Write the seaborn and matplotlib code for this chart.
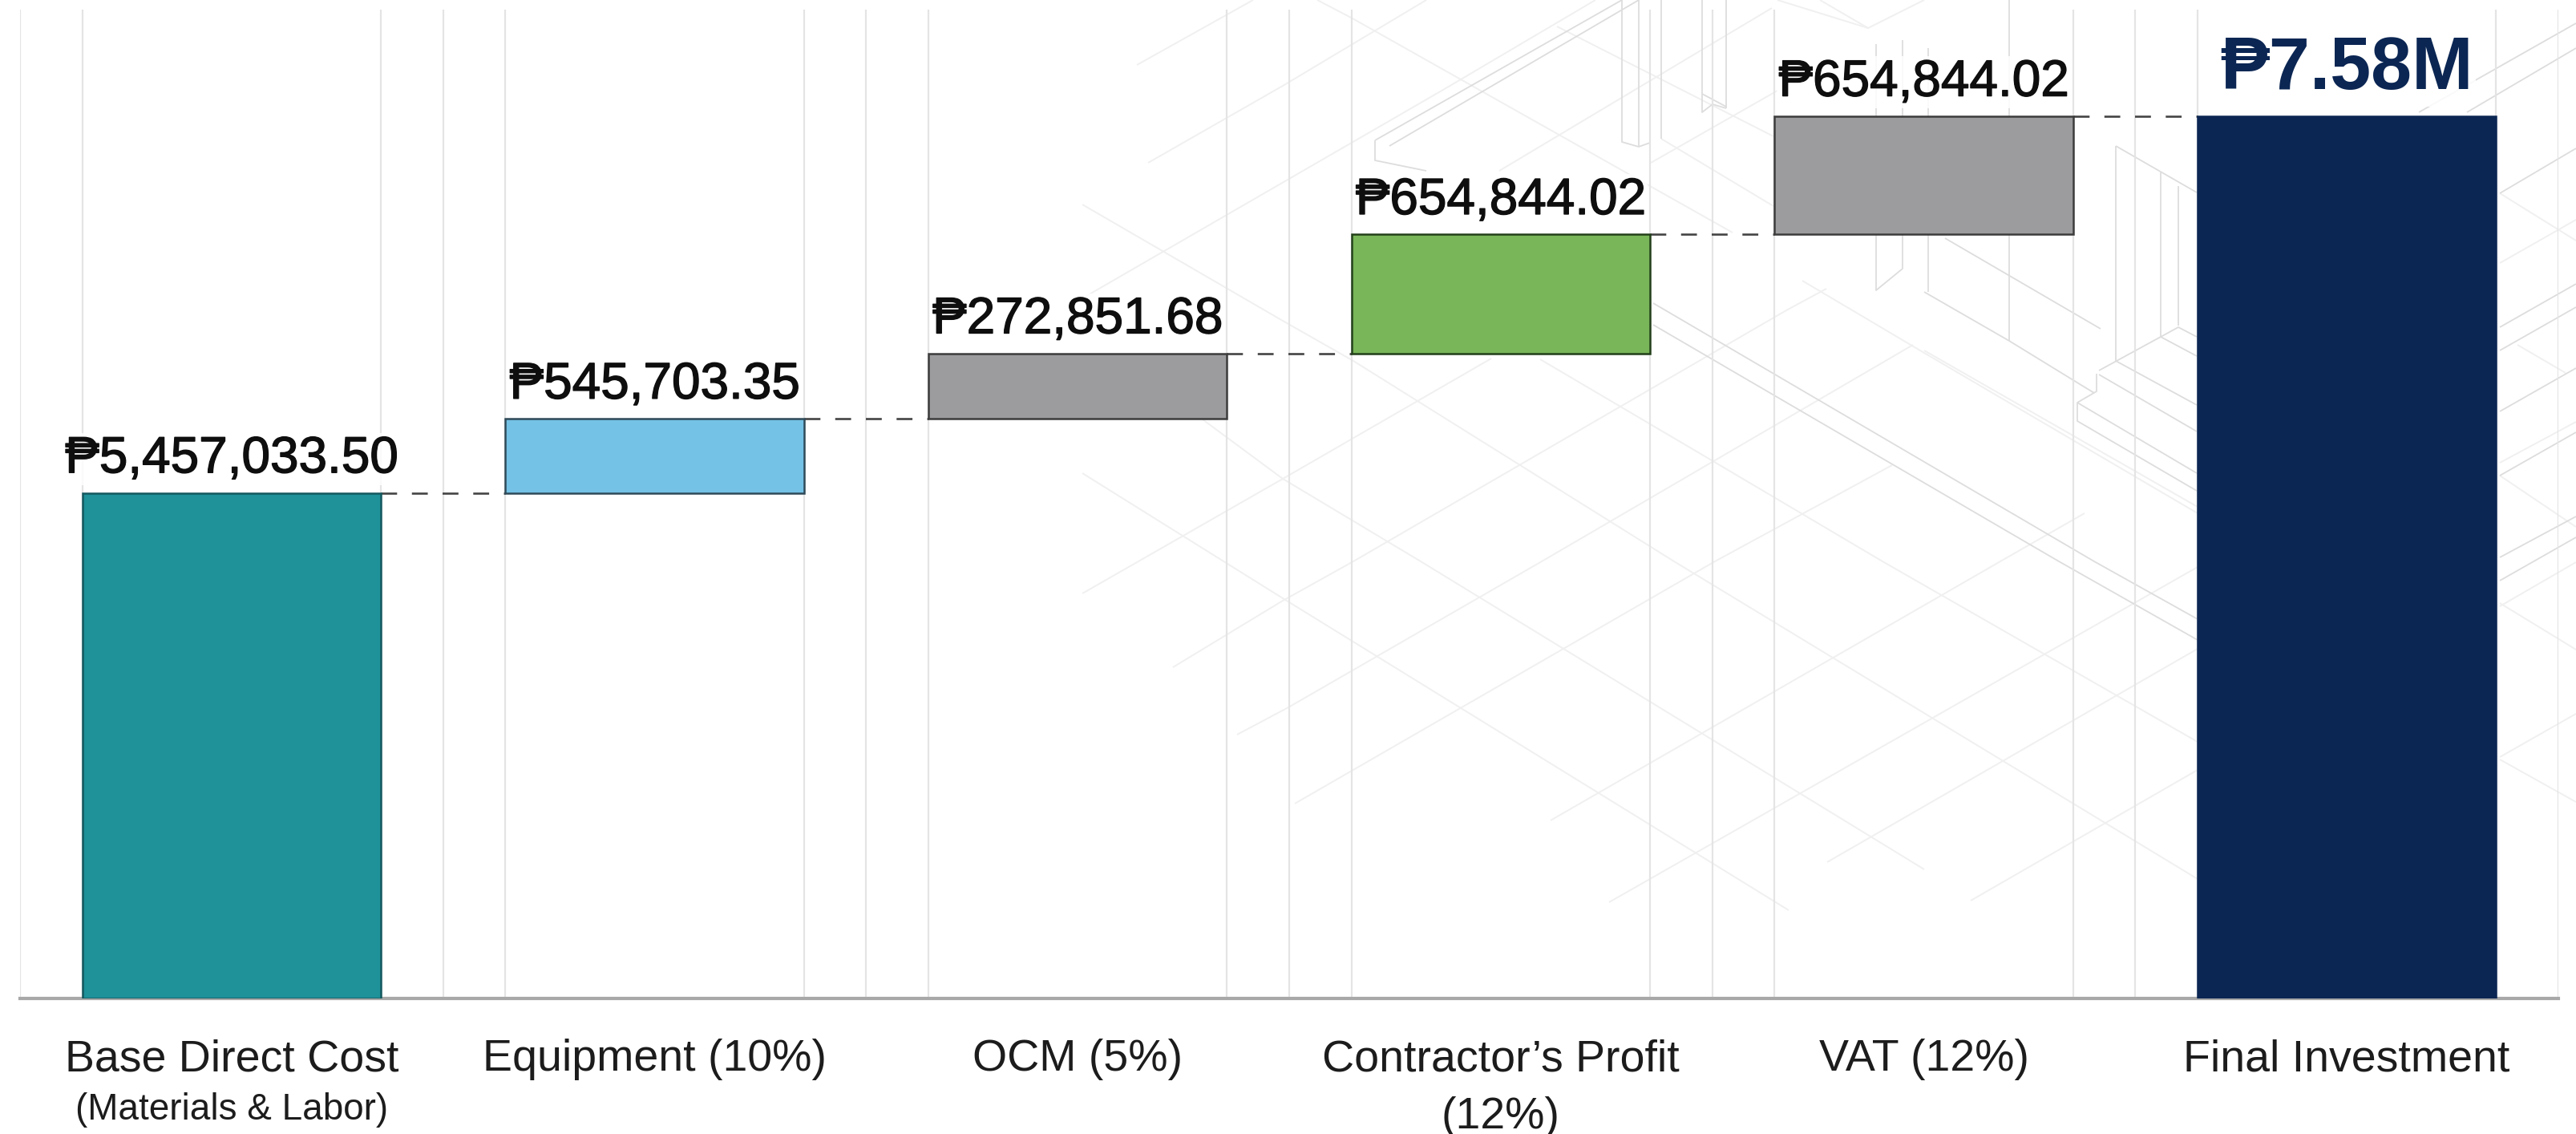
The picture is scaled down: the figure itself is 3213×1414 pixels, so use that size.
import matplotlib
matplotlib.use('Agg')
import matplotlib.pyplot as plt
import matplotlib.patheffects as pe
import seaborn as sns
import numpy as np
from matplotlib.collections import LineCollection

# Settings
sns.set_theme(style="white")
plt.rcParams['font.family'] = ['Liberation Sans', 'DejaVu Sans']

W, H = 3213, 1414

# Data (bar heights are what the picture draws, as % of the final bar;
# the printed amounts are not to scale with them in the original)
categories = ['Base Direct Cost', 'Equipment (10%)', 'OCM (5%)',
              'Contractor\u2019s Profit\n(12%)', 'VAT (12%)', 'Final Investment']
floors = [0, 57.3, 65.7, 73.1, 86.6, 0]
tops = [57.3, 65.7, 73.1, 86.6, 100, 100]
amounts = ['\u20b15,457,033.50', '\u20b1545,703.35', '\u20b1272,851.68',
           '\u20b1654,844.02', '\u20b1654,844.02', '\u20b17.58M']
fills = ['#1E9199', '#74C2E6', '#9C9C9E', '#79B559', '#9C9C9E', '#0B2653']
edges = ['#14585E', '#2F4A58', '#3C3C3C', '#22401A', '#3C3C3C', '#0B2653']

# Faint drawing behind the chart, as polylines in image pixels
faint_lines = [
    [(1418, 81), (1563, 0)], [(1432, 203), (1600, 107), (1779, 0)],
    [(1350, 372), (1800, 112), (1990, 0)],
    [(1350, 740), (1600, 597), (1860, 447)],
    [(1463, 832), (1600, 749), (1688, 700), (2228, 387), (2278, 360)],
    [(1543, 916), (1607, 882), (1923, 700), (2386, 430)],
    [(1615, 1002), (2139, 700), (2360, 580)],
    [(1934, 1023), (2495, 700), (2600, 640)],
    [(2007, 1125), (2741, 707)], [(2279, 1075), (2741, 809)], [(2458, 1123), (2741, 960)],
    [(1500, 523), (1600, 597), (1772, 700), (2400, 1084)],
    [(1350, 590), (1600, 746), (2231, 1135)],
    [(1350, 255), (1600, 400), (1688, 450), (2088, 700), (2741, 1096)],
    [(1921, 448), (2140, 577), (2348, 700), (2741, 925)],
    [(2248, 350), (2400, 440), (2741, 640)],
    [(1870, 213), (2210, 10)], [(2059, 203), (2217, 113)],
    [(1643, 0), (1687, 23), (2161, 290)], [(1942, 33), (2212, 170)], [(2072, 173), (2212, 257)],
    [(2217, 0), (2330, 35), (2400, 0)], [(2270, 0), (2330, 35)],
    [(2400, 437), (2741, 632)],
    [(3118, 328), (3213, 274)], [(3118, 577), (3213, 526)], [(3118, 756), (3213, 701)],
    [(3118, 944), (3213, 890)], [(3118, 241), (3213, 300)], [(3140, 430), (3200, 465)],
    [(3118, 593), (3213, 657)], [(3118, 752), (3213, 810)], [(3118, 947), (3213, 1000)],
]
strong_lines = [
    [(1715, 175), (2023, 0)], [(1733, 182), (2044, 0)],
    [(1715, 175), (1715, 200), (1779, 213)],
    [(2023, 0), (2023, 177), (2044, 183), (2058, 178)], [(2044, 0), (2044, 183)],
    [(2072, 0), (2072, 173)], [(2123, 0), (2123, 140), (2136, 130), (2153, 135)],
    [(2123, 117), (2153, 133)], [(2153, 0), (2153, 135)],
    [(2062, 378), (2612, 700), (2741, 772)], [(2062, 405), (2568, 700), (2741, 798)],
    [(2340, 55), (2340, 362), (2373, 335), (2373, 50)],
    [(2405, 60), (2405, 364)], [(2506, 0), (2506, 425)],
    [(2400, 364), (2506, 425), (2612, 490)], [(2426, 297), (2620, 410)],
    [(2639, 182), (2639, 450)], [(2639, 182), (2740, 240)],
    [(2695, 215), (2695, 420)], [(2717, 232), (2717, 406)],
    [(2618, 462), (2717, 408), (2740, 420)], [(2695, 420), (2740, 444)],
    [(2639, 450), (2740, 505)], [(2618, 467), (2740, 538)],
    [(2615, 466), (2615, 488), (2591, 502), (2591, 525), (2740, 612)],
    [(2591, 502), (2740, 590)],
    [(3017, 140), (3213, 29)], [(3077, 140), (3213, 60)], [(3118, 241), (3213, 185)],
    [(3118, 408), (3213, 354)], [(3118, 437), (3213, 383)], [(3118, 513), (3213, 459)],
    [(3118, 593), (3213, 539)], [(3118, 695), (3213, 644)], [(3118, 724), (3213, 670)],
]

fig = plt.figure(figsize=(W / 100, H / 100), dpi=100, facecolor='white')

# Background drawing
bg = fig.add_axes([0, 0, 1, 1], zorder=0)
bg.set_xlim(0, W)
bg.set_ylim(H, 0)
bg.axis('off')
bg.add_collection(LineCollection(faint_lines, colors='#F0F0F0', linewidths=1.4))
bg.add_collection(LineCollection(strong_lines, colors='#DDDDDD', linewidths=1.3))

# Chart axes
ax = fig.add_axes([25 / W, 1 - 1245 / H, (3191 - 25) / W, (1245 - 12) / H], zorder=1)
ax.patch.set_alpha(0)

heights = [t - f for t, f in zip(tops, floors)]
bar_width = 0.706
sns.barplot(x=categories, y=heights, bottom=floors, width=bar_width, color=fills[0],
            saturation=1, ax=ax, zorder=3)
for patch, fc, ec in zip(ax.patches, fills, edges):
    patch.set_facecolor(fc)
    patch.set_edgecolor(ec)
    patch.set_linewidth(1.8)

ax.set_xlim(-0.5, 5.5)
ax.set_ylim(0, 112.1)
ax.set_yticks([])

# Light vertical rules at the bar edges and between the bars
n = len(categories)
rules = [-0.5] + [v for i in range(n)
                  for v in (i - bar_width / 2, i + bar_width / 2, i + 0.5)]
ax.set_xticks(rules, minor=True)
ax.grid(which='minor', axis='x', color='#E4E4E4', linewidth=1.6, zorder=0)
ax.grid(which='major', visible=False)
ax.set_axisbelow(True)
ax.tick_params(axis='x', which='both', length=0)
ax.tick_params(axis='x', which='major', labelsize=40, pad=36, labelcolor='#1c1c1c')
for label in ax.get_xticklabels():
    label.set_linespacing(1.5)

sns.despine(ax=ax, left=True, top=True, right=True)
ax.spines['bottom'].set_color('#A8A8A8')
ax.spines['bottom'].set_linewidth(3)
ax.set_xlabel('')
ax.set_ylabel('')

# Connectors
for i in range(n - 1):
    ax.plot([i + bar_width / 2, i + 1 - bar_width / 2], [tops[i], tops[i]], color='#444444',
            linewidth=1.9, dashes=(7.5, 7), zorder=2)

# Amounts above the bars
for i in range(n):
    is_total = i == n - 1
    colour = '#0B2653' if is_total else '#0e0e0e'
    txt = ax.annotate(amounts[i], (i, tops[i]), xytext=(0, 11 if is_total else 9),
                      textcoords='offset points', ha='center', va='bottom',
                      fontsize=66 if is_total else 46,
                      fontweight='bold' if is_total else 'normal',
                      color=colour, zorder=4,
                      bbox=dict(facecolor='white', edgecolor='none', pad=2, alpha=0.85))
    if not is_total:
        txt.set_path_effects([pe.withStroke(linewidth=1.0, foreground=colour)])

# Second line of the first category
ax.annotate('(Materials & Labor)', (0, 0), xytext=(0, -84), textcoords='offset points',
            ha='center', va='top', fontsize=33, color='#1c1c1c', annotation_clip=False)

plt.savefig('out.png', dpi=100)
plt.close()
